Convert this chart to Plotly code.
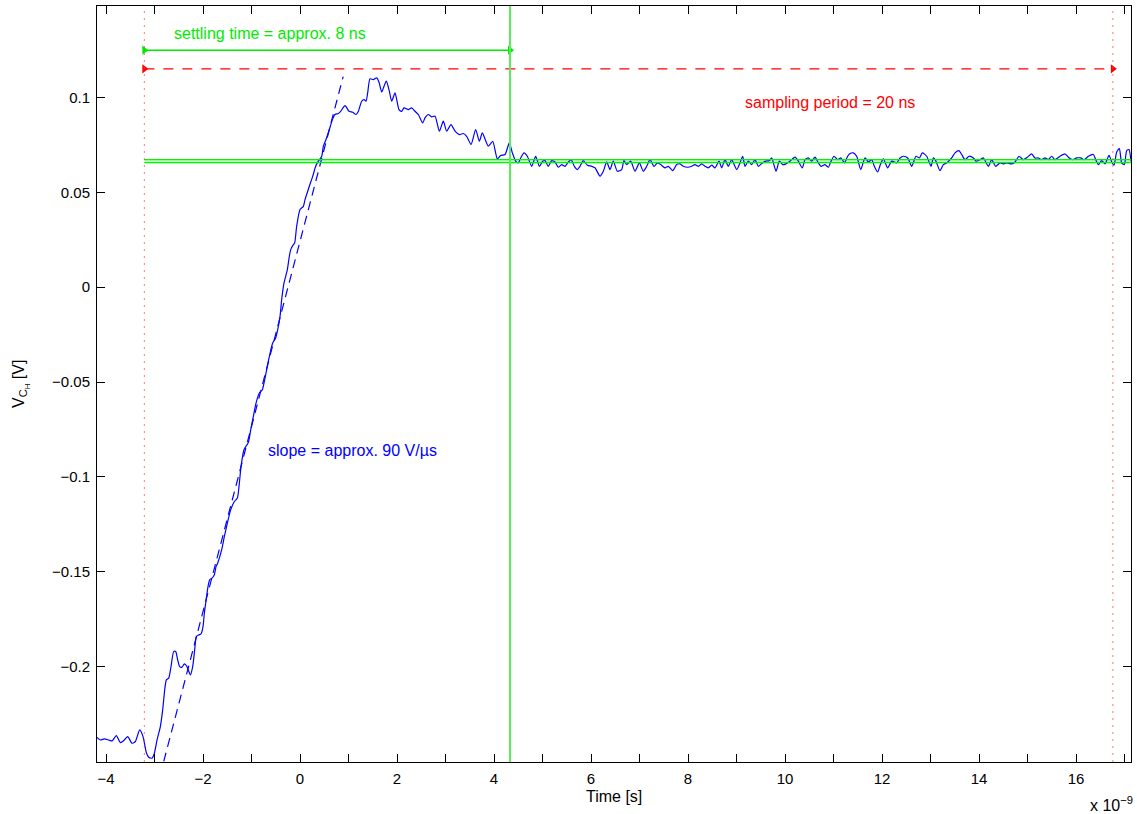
import plotly.graph_objects as go

# ---------------- data (time in ns, voltage in V) ----------------
time_ns = [
    -4.186, -4.117, -4.034, -3.945, -3.876, -3.787, -3.704, -3.622, -3.553, -3.464,
    -3.395, -3.306, -3.237, -3.168, -3.120, -3.052, -3.003, -2.948, -2.880, -2.832,
    -2.790, -2.756, -2.708, -2.660, -2.605, -2.564, -2.522, -2.481, -2.433, -2.385,
    -2.330, -2.261, -2.213, -2.172, -2.138, -2.089, -2.041, -2.000, -1.973, -1.945,
    -1.897, -1.863, -1.814, -1.766, -1.732, -1.698, -1.615, -1.560, -1.498, -1.430,
    -1.354, -1.292, -1.251, -1.216, -1.155, -1.065, -1.017, -0.962, -0.907, -0.839,
    -0.777, -0.742, -0.687, -0.632, -0.564, -0.502, -0.460, -0.412, -0.378, -0.330,
    -0.261, -0.220, -0.192, -0.137, -0.110, -0.069, 0.000, 0.069, 0.103, 0.192,
    0.261, 0.323, 0.378, 0.447, 0.481, 0.536, 0.605, 0.667, 0.722, 0.790,
    0.838, 0.928, 1.010, 1.086, 1.155, 1.203, 1.271, 1.320, 1.361, 1.395,
    1.443, 1.512, 1.581, 1.629, 1.684, 1.732, 1.780, 1.842, 1.890, 1.959,
    2.041, 2.096, 2.144, 2.234, 2.302, 2.371, 2.440, 2.529, 2.577, 2.646,
    2.715, 2.784, 2.873, 2.955, 3.024, 3.113, 3.196, 3.285, 3.368, 3.436,
    3.526, 3.622, 3.698, 3.759, 3.883, 3.973, 4.069, 4.137, 4.227, 4.316,
    4.378, 4.447, 4.502, 4.550, 4.619, 4.687, 4.777, 4.859, 4.935, 5.003,
    5.052, 5.120, 5.189, 5.258, 5.326, 5.395, 5.464, 5.519, 5.588, 5.656,
    5.718, 5.773, 5.842, 5.924, 6.014, 6.082, 6.186, 6.254, 6.323, 6.392,
    6.460, 6.543, 6.632, 6.680, 6.735, 6.818, 6.907, 6.997, 7.079, 7.148,
    7.217, 7.299, 7.368, 7.436, 7.526, 7.594, 7.684, 7.766, 7.835, 7.904,
    7.993, 8.076, 8.144, 8.213, 8.282, 8.351, 8.419, 8.488, 8.557, 8.639,
    8.694, 8.763, 8.832, 8.900, 9.003, 9.072, 9.127, 9.175, 9.244, 9.313,
    9.381, 9.450, 9.533, 9.601, 9.677, 9.725, 9.815, 9.883, 9.952, 10.020,
    10.103, 10.206, 10.275, 10.357, 10.412, 10.481, 10.550, 10.618, 10.687, 10.743,
    10.825, 10.894, 10.949, 11.011, 11.086, 11.155, 11.224, 11.292, 11.341, 11.409,
    11.478, 11.561, 11.650, 11.719, 11.787, 11.842, 11.911, 11.966, 12.028, 12.117,
    12.200, 12.303, 12.372, 12.440, 12.530, 12.612, 12.701, 12.770, 12.832, 12.921,
    13.011, 13.059, 13.107, 13.196, 13.265, 13.334, 13.437, 13.506, 13.588, 13.643,
    13.712, 13.794, 13.884, 13.939, 14.021, 14.090, 14.193, 14.262, 14.344, 14.433,
    14.502, 14.571, 14.674, 14.743, 14.825, 14.915, 14.997, 15.086, 15.155, 15.224,
    15.292, 15.361, 15.430, 15.499, 15.567, 15.670, 15.774, 15.842, 15.925, 16.014,
    16.097, 16.172, 16.255, 16.358, 16.406, 16.461, 16.530, 16.598, 16.681, 16.736,
    16.784, 16.839, 16.894, 16.942, 16.997, 17.045, 17.093, 17.134,
]

v_ch = [
    -0.2374, -0.2387, -0.2381, -0.2387, -0.2392, -0.2364, -0.2401, -0.2387, -0.2369, -0.2404,
    -0.2395, -0.2334, -0.2369, -0.2454, -0.2478, -0.2483, -0.2457, -0.2387, -0.2316, -0.2228,
    -0.2123, -0.2070, -0.2061, -0.2000, -0.1921, -0.1921, -0.1965, -0.2000, -0.2003, -0.1986,
    -0.2000, -0.2044, -0.2000, -0.1912, -0.1842, -0.1833, -0.1828, -0.1789, -0.1719, -0.1666,
    -0.1578, -0.1543, -0.1534, -0.1516, -0.1473, -0.1455, -0.1384, -0.1314, -0.1244, -0.1174,
    -0.1130, -0.1112, -0.1033, -0.0945, -0.0857, -0.0818, -0.0752, -0.0681, -0.0611, -0.0558,
    -0.0541, -0.0505, -0.0435, -0.0365, -0.0294, -0.0268, -0.0224, -0.0154, -0.0066, 0.0022,
    0.0092, 0.0163, 0.0198, 0.0224, 0.0233, 0.0321, 0.0409, 0.0426, 0.0461, 0.0532,
    0.0584, 0.0637, 0.0664, 0.0690, 0.0743, 0.0778, 0.0831, 0.0883, 0.0910, 0.0915,
    0.0927, 0.0957, 0.0927, 0.0922, 0.0910, 0.0927, 0.0980, 0.0989, 0.0980, 0.1024,
    0.1098, 0.1094, 0.1103, 0.1080, 0.1028, 0.1059, 0.1086, 0.1033, 0.0980, 0.1024,
    0.0936, 0.0927, 0.0945, 0.0936, 0.0945, 0.0927, 0.0910, 0.0866, 0.0892, 0.0910,
    0.0898, 0.0901, 0.0822, 0.0875, 0.0822, 0.0857, 0.0822, 0.0804, 0.0810, 0.0795,
    0.0752, 0.0831, 0.0769, 0.0813, 0.0743, 0.0769, 0.0676, 0.0694, 0.0699, 0.0760,
    0.0708, 0.0664, 0.0655, 0.0681, 0.0708, 0.0690, 0.0637, 0.0690, 0.0637, 0.0664,
    0.0667, 0.0637, 0.0667, 0.0660, 0.0632, 0.0646, 0.0637, 0.0655, 0.0672, 0.0637,
    0.0620, 0.0637, 0.0667, 0.0643, 0.0637, 0.0629, 0.0585, 0.0611, 0.0660, 0.0620,
    0.0664, 0.0611, 0.0620, 0.0667, 0.0646, 0.0664, 0.0611, 0.0655, 0.0611, 0.0637,
    0.0672, 0.0637, 0.0655, 0.0646, 0.0629, 0.0637, 0.0614, 0.0646, 0.0650, 0.0637,
    0.0632, 0.0637, 0.0646, 0.0637, 0.0650, 0.0637, 0.0629, 0.0643, 0.0629, 0.0664,
    0.0629, 0.0672, 0.0637, 0.0672, 0.0620, 0.0655, 0.0690, 0.0637, 0.0664, 0.0646,
    0.0672, 0.0637, 0.0655, 0.0664, 0.0667, 0.0681, 0.0611, 0.0664, 0.0646, 0.0650,
    0.0664, 0.0685, 0.0664, 0.0629, 0.0672, 0.0681, 0.0664, 0.0685, 0.0655, 0.0637,
    0.0646, 0.0632, 0.0664, 0.0690, 0.0672, 0.0681, 0.0655, 0.0690, 0.0704, 0.0708,
    0.0690, 0.0620, 0.0681, 0.0660, 0.0672, 0.0637, 0.0607, 0.0646, 0.0676, 0.0629,
    0.0664, 0.0655, 0.0681, 0.0690, 0.0681, 0.0637, 0.0690, 0.0681, 0.0708, 0.0690,
    0.0637, 0.0681, 0.0667, 0.0614, 0.0646, 0.0655, 0.0681, 0.0708, 0.0720, 0.0699,
    0.0672, 0.0690, 0.0681, 0.0664, 0.0672, 0.0681, 0.0637, 0.0672, 0.0637, 0.0655,
    0.0650, 0.0655, 0.0650, 0.0660, 0.0690, 0.0672, 0.0685, 0.0702, 0.0681, 0.0681,
    0.0672, 0.0681, 0.0672, 0.0690, 0.0672, 0.0690, 0.0702, 0.0685, 0.0672, 0.0681,
    0.0681, 0.0672, 0.0690, 0.0699, 0.0672, 0.0646, 0.0667, 0.0650, 0.0695, 0.0660,
    0.0643, 0.0713, 0.0730, 0.0655, 0.0646, 0.0720, 0.0725, 0.0664,
]

# slope fit line (dashed)
slope_t = [-2.81, 0.89]
slope_v = [-0.250, 0.111]

# markers of sampling period and settling time
sample_start = -3.21
sample_end = 16.76
settle_end = 4.33
settle_arrow_v = 0.1249
sample_arrow_v = 0.1151
band_lo = 0.0656
band_hi = 0.0672

x_range = [-4.186, 17.134]
y_range = [-0.2503, 0.1482]

xtick_vals = [-4, -2, 0, 2, 4, 6, 8, 10, 12, 14, 16]
xtick_text = ["\u22124", "\u22122", "0", "2", "4", "6", "8", "10", "12", "14", "16"]
ytick_vals = [-0.2, -0.15, -0.1, -0.05, 0, 0.05, 0.1]
ytick_text = ["\u22120.2", "\u22120.15", "\u22120.1", "\u22120.05", "0", "0.05", "0.1"]

FONT = "Liberation Sans, Arial, Helvetica, sans-serif"
GREEN = "rgb(0,235,0)"
TXT = 16
TICK = 15

fig = go.Figure()

# green tolerance band
fig.add_shape(type="rect", xref="x", yref="y", x0=sample_start, x1=x_range[1],
              y0=band_lo, y1=band_hi, fillcolor="rgba(0,255,0,0.25)", line=dict(width=0),
              layer="below")
for yb in (band_lo, band_hi):
    fig.add_shape(type="line", xref="x", yref="y", x0=sample_start, x1=x_range[1],
                  y0=yb, y1=yb, line=dict(color="rgb(0,245,0)", width=1.3))

# red dotted sampling markers
for xv in (sample_start, sample_end):
    fig.add_shape(type="line", xref="x", yref="y", x0=xv, x1=xv, y0=y_range[0], y1=y_range[1],
                  line=dict(color="rgba(255,60,60,0.7)", width=1, dash="2px,5px"))

# green vertical settling line
fig.add_shape(type="line", xref="x", yref="y", x0=settle_end, x1=settle_end,
              y0=y_range[0], y1=y_range[1], line=dict(color="rgb(90,235,90)", width=2))

# waveform
fig.add_trace(go.Scatter(x=time_ns, y=v_ch, mode="lines",
                         line=dict(color="#0000ff", width=1.2, shape="spline", smoothing=0.6),
                         hoverinfo="skip"))

# slope line
fig.add_trace(go.Scatter(x=slope_t, y=slope_v, mode="lines",
                         line=dict(color="#0000ff", width=1.2, dash="9px,6px"), hoverinfo="skip"))

# settling arrow
fig.add_trace(go.Scatter(x=[sample_start, settle_end], y=[settle_arrow_v, settle_arrow_v],
                         mode="lines+markers",
                         line=dict(color=GREEN, width=1.5),
                         marker=dict(symbol="triangle-right", size=8, color=GREEN),
                         hoverinfo="skip"))

# sampling period arrow
fig.add_trace(go.Scatter(x=[sample_start, sample_end], y=[sample_arrow_v, sample_arrow_v],
                         mode="lines", line=dict(color="#ff0000", width=1.2, dash="10px,9px"),
                         hoverinfo="skip"))
fig.add_trace(go.Scatter(x=[sample_start, sample_end], y=[sample_arrow_v, sample_arrow_v],
                         mode="markers",
                         marker=dict(symbol="triangle-right", size=8, color="#ff0000"),
                         hoverinfo="skip"))

annotations = [
    dict(x=-2.64, y=0.1337, xref="x", yref="y", text="settling time = approx. 8 ns",
         showarrow=False, xanchor="left", yanchor="middle",
         font=dict(color=GREEN, size=TXT, family=FONT)),
    dict(x=9.13, y=0.0973, xref="x", yref="y", text="sampling period = 20 ns",
         showarrow=False, xanchor="left", yanchor="middle",
         font=dict(color="#ff0000", size=TXT, family=FONT)),
    dict(x=-0.70, y=-0.0862, xref="x", yref="y", text="slope = approx. 90 V/\u00b5s",
         showarrow=False, xanchor="left", yanchor="middle",
         font=dict(color="#0000ff", size=TXT, family=FONT)),
    dict(x=-0.0735, y=0.5, xref="paper", yref="paper",
         text="V<sub>C<sub>H</sub></sub> [V]", textangle=-90,
         showarrow=False, xanchor="center", yanchor="middle",
         font=dict(color="black", size=TXT, family=FONT)),
    dict(x=0.5, y=-0.045, xref="paper", yref="paper", text="Time [s]",
         showarrow=False, xanchor="center", yanchor="middle",
         font=dict(color="black", size=TXT, family=FONT)),
    dict(x=1.004, y=-0.055, xref="paper", yref="paper", text="x 10<sup>\u22129</sup>",
         showarrow=False, xanchor="right", yanchor="middle",
         font=dict(color="black", size=TXT, family=FONT)),
]

fig.update_layout(
    width=1137, height=814,
    margin=dict(l=97, r=6, t=6, b=52),
    paper_bgcolor="white", plot_bgcolor="white",
    showlegend=False,
    font=dict(family=FONT, size=TICK, color="black"),
    annotations=annotations,
    xaxis=dict(range=x_range, tickmode="array", tickvals=xtick_vals, ticktext=xtick_text,
               ticks="inside", ticklen=8, tickcolor="black", tickwidth=1,
               minor=dict(dtick=1, tick0=0, ticks="inside", ticklen=8, tickcolor="black", tickwidth=1),
               showline=True, linecolor="black", linewidth=1, mirror="allticks",
               showgrid=False, zeroline=False, ticklabelstandoff=3,
               tickfont=dict(size=TICK, family=FONT)),
    yaxis=dict(range=y_range, tickmode="array", tickvals=ytick_vals, ticktext=ytick_text,
               ticks="inside", ticklen=8, tickcolor="black", tickwidth=1,
               showline=True, linecolor="black", linewidth=1, mirror="allticks",
               showgrid=False, zeroline=False, ticklabelstandoff=3,
               tickfont=dict(size=TICK, family=FONT)),
)

fig.write_html("out.html")
